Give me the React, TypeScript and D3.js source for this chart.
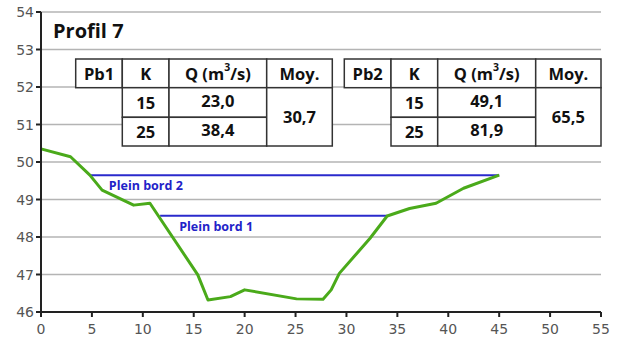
import React from "react";
import * as d3 from "d3";

const profileX = [0, 2.9, 4.8, 6.0, 9.1, 10.7, 15.4, 16.4, 18.6, 20.0, 25.1, 27.7, 28.5, 29.3, 32.3, 34.0, 36.2, 38.8, 41.5, 45.0];
const profileY = [50.35, 50.14, 49.65, 49.25, 48.85, 48.9, 46.99, 46.32, 46.41, 46.59, 46.35, 46.34, 46.59, 47.03, 47.96, 48.56, 48.76, 48.9, 49.3, 49.65];

const bankNames = ["Plein bord 2", "Plein bord 1"];
const bankLevels = [49.65, 48.57];
const bankStarts = [4.8, 11.7];
const bankEnds = [45.0, 34.0];

const xTicks = [0, 5, 10, 15, 20, 25, 30, 35, 40, 45, 50, 55];
const yTicks = [46, 47, 48, 49, 50, 51, 52, 53, 54];

const tableNames = ["Pb1", "Pb2"];
const kValues = ["15", "25"];
const qValues = [["23,0", "38,4"], ["49,1", "81,9"]];
const moyValues = ["30,7", "65,5"];

const W = 621;
const H = 340;
const tableFont = "'Open Sans', 'Liberation Sans', sans-serif";
const axisFont = "'DejaVu Sans', sans-serif";

const App: React.FC = () => {
  const x = d3.scaleLinear().domain([0, 55]).range([41, 601]);
  const y = d3.scaleLinear().domain([46, 54]).range([312, 12]);

  const pts = profileX.map((v, i) => [v, profileY[i]] as [number, number]);
  const line = d3
    .line<[number, number]>()
    .x((d) => x(d[0]))
    .y((d) => y(d[1]));

  // table geometry (pixels)
  const rowTop = 59;
  const rowH1 = 87.7;
  const rowMid = 117.3;
  const rowBot = 146;
  const tableCols = [
    [75.7, 122.3, 169, 266.7, 332.3],
    [344.3, 391, 437.7, 535.7, 601],
  ];
  const stroke = "#333";

  const cell = (x0: number, y0: number, x1: number, y1: number, key: string) => (
    <rect key={key} x={x0} y={y0} width={x1 - x0} height={y1 - y0} fill="#fff" stroke={stroke} strokeWidth={1.5} />
  );
  const txt = (cx: number, cy: number, s: React.ReactNode, key: string) => (
    <text key={key} x={cx} y={cy} textAnchor="middle" dominantBaseline="central" fontFamily={tableFont} fontWeight="bold" fontSize={16.5} fill="#111">
      {s}
    </text>
  );

  return (
    <svg width={W} height={H} style={{ position: "absolute", left: 0, top: 0, background: "#fff" }}>
      {/* grid */}
      {yTicks.slice(1).map((t) => (
        <line key={t} x1={x(0)} x2={x(55)} y1={y(t)} y2={y(t)} stroke="#b4b4b4" strokeWidth={1.5} />
      ))}

      {/* title */}
      <text x={53} y={38} fontFamily={tableFont} fontWeight="bold" fontSize={20} fill="#111">
        Profil 7
      </text>

      {/* tables */}
      {tableNames.map((name, ti) => {
        const c = tableCols[ti];
        return (
          <g key={name}>
            {cell(c[0], rowTop, c[1], rowH1, "a")}
            {cell(c[1], rowTop, c[2], rowH1, "b")}
            {cell(c[2], rowTop, c[3], rowH1, "c")}
            {cell(c[3], rowTop, c[4], rowH1, "d")}
            {cell(c[1], rowH1, c[2], rowMid, "e")}
            {cell(c[1], rowMid, c[2], rowBot, "f")}
            {cell(c[2], rowH1, c[3], rowMid, "g")}
            {cell(c[2], rowMid, c[3], rowBot, "h")}
            {cell(c[3], rowH1, c[4], rowBot, "i")}
            {txt((c[0] + c[1]) / 2, (rowTop + rowH1) / 2, name, "t1")}
            {txt((c[1] + c[2]) / 2, (rowTop + rowH1) / 2, "K", "t2")}
            {txt(
              (c[2] + c[3]) / 2,
              (rowTop + rowH1) / 2,
              <>
                Q (m<tspan fontSize={10.5} dy={-6}>3</tspan>
                <tspan dy={6}>/s)</tspan>
              </>,
              "t3"
            )}
            {txt((c[3] + c[4]) / 2, (rowTop + rowH1) / 2, "Moy.", "t4")}
            {kValues.map((k, i) => txt((c[1] + c[2]) / 2, i === 0 ? (rowH1 + rowMid) / 2 : (rowMid + rowBot) / 2, k, "k" + i))}
            {qValues[ti].map((q, i) => txt((c[2] + c[3]) / 2, i === 0 ? (rowH1 + rowMid) / 2 - 2 : (rowMid + rowBot) / 2 - 2, q, "q" + i))}
            {txt((c[3] + c[4]) / 2, (rowH1 + rowBot) / 2, moyValues[ti], "m")}
          </g>
        );
      })}

      {/* bankfull lines */}
      {bankNames.map((n, i) => (
        <line key={n} x1={x(bankStarts[i])} x2={x(bankEnds[i])} y1={y(bankLevels[i])} y2={y(bankLevels[i])} stroke="#2a2acc" strokeWidth={2} />
      ))}
      {bankNames.map((n, i) => (
        <text key={n + "t"} x={x(bankStarts[i]) + 19} y={y(bankLevels[i]) + 15} fontFamily={tableFont} fontWeight="bold" fontSize={12.5} fill="#2222c8">
          {n}
        </text>
      ))}

      {/* profile */}
      <path d={line(pts) || ""} fill="none" stroke="#4aaa1a" strokeWidth={3} strokeLinejoin="round" />

      {/* axes */}
      <line x1={x(0)} x2={x(0)} y1={y(54)} y2={y(46)} stroke="#222" strokeWidth={2} />
      <line x1={x(0)} x2={x(55)} y1={y(46)} y2={y(46)} stroke="#222" strokeWidth={2} />
      {yTicks.map((t) => (
        <g key={"y" + t}>
          <line x1={x(0) - 5} x2={x(0)} y1={y(t)} y2={y(t)} stroke="#222" strokeWidth={2} />
          <text x={x(0) - 7} y={y(t)} textAnchor="end" dominantBaseline="central" fontFamily={axisFont} fontSize={14} fill="#555">
            {t}
          </text>
        </g>
      ))}
      {xTicks.map((t) => (
        <g key={"x" + t}>
          <line x1={x(t)} x2={x(t)} y1={y(46)} y2={y(46) + 5} stroke="#222" strokeWidth={2} />
          <text x={x(t)} y={y(46) + 17} textAnchor="middle" dominantBaseline="central" fontFamily={axisFont} fontSize={14} fill="#555">
            {t}
          </text>
        </g>
      ))}
    </svg>
  );
};

export default App;
